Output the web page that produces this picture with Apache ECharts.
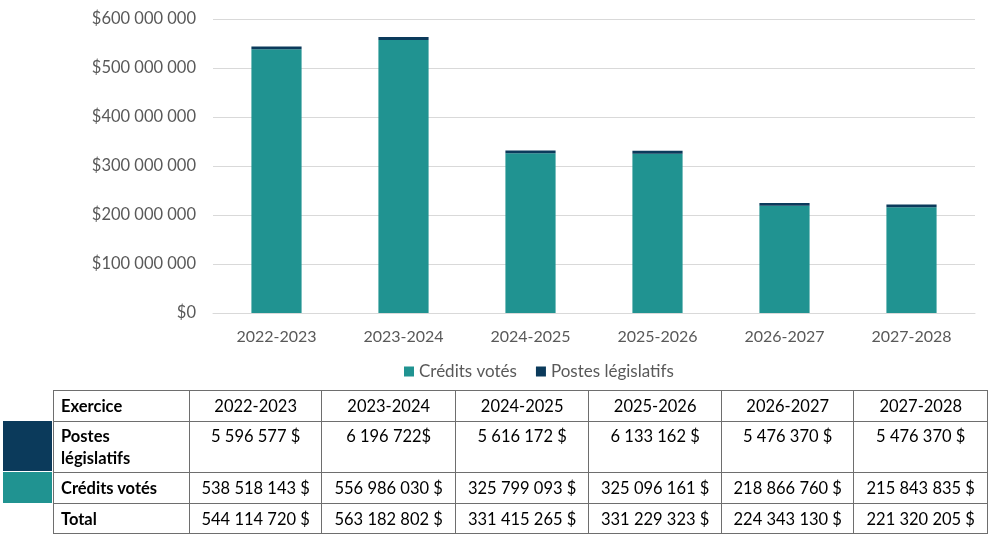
<!DOCTYPE html>
<html>
<head>
<meta charset="utf-8">
<script src="https://cdn.jsdelivr.net/npm/echarts@6/dist/echarts.min.js"></script>
<style>
html,body{margin:0;padding:0;background:#fff;}
#chart{position:absolute;left:0;top:0;width:988px;height:534px;}
#tbl{position:absolute;left:53px;top:390px;border-collapse:collapse;table-layout:fixed;font-family:Lato,"Noto Sans",sans-serif;font-size:16.5px;color:#000;}
#tbl td{border:1px solid #6e6e6e;padding:0 6px;text-align:center;vertical-align:middle;white-space:nowrap;overflow:hidden;}
#tbl td.lab{text-align:left;font-weight:bold;padding-left:7px;}
#tbl tr.tall td{vertical-align:top;padding-top:3px;line-height:22px;}
.sw{position:absolute;left:3px;width:49px;}
</style>
</head>
<body>
<div id="chart"></div>
<div class="sw" style="top:421px;height:50px;background:#0b3a5b;"></div>
<div class="sw" style="top:472px;height:31px;background:#209391;"></div>
<table id="tbl"></table>
<script>
const categories = ["2022-2023","2023-2024","2024-2025","2025-2026","2026-2027","2027-2028"];
const creditsVotes = [538518143, 556986030, 325799093, 325096161, 218866760, 215843835];
const postesLegislatifs = [5596577, 6196722, 5616172, 6133162, 5476370, 5476370];
const totals = [544114720, 563182802, 331415265, 331229323, 224343130, 221320205];
const postesText = ["5 596 577 $","6 196 722$","5 616 172 $","6 133 162 $","5 476 370 $","5 476 370 $"];
const yTicks = [0, 100000000, 200000000, 300000000, 400000000, 500000000, 600000000];

function fmt(n){ return String(n).replace(/\B(?=(\d{3})+(?!\d))/g, " "); }

const chart = echarts.init(document.getElementById('chart'));
chart.setOption({
  animation:false,
  textStyle:{fontFamily:'Lato, "Noto Sans", sans-serif'},
  grid:{left:213,right:13,top:19,bottom:221,containLabel:false},
  legend:{
    data:["Crédits votés","Postes législatifs"],
    left:399, top:358, icon:'rect', itemWidth:10, itemHeight:10, itemGap:19,
    textStyle:{fontSize:17,color:'#595959'}
  },
  xAxis:{
    type:'category', data:categories,
    axisLine:{lineStyle:{color:'#d9d9d9'}}, axisTick:{show:false},
    axisLabel:{fontSize:16,color:'#595959',margin:16}
  },
  yAxis:{
    type:'value', min:yTicks[0], max:yTicks[yTicks.length-1], interval:100000000,
    axisLine:{show:false}, axisTick:{show:false},
    splitLine:{lineStyle:{color:'#d9d9d9'}},
    axisLabel:{fontSize:16.5,color:'#595959',margin:17,formatter:v=>'$'+fmt(v)}
  },
  series:[
    {name:"Crédits votés",type:'bar',stack:'t',data:creditsVotes,barWidth:'39.5%',
     itemStyle:{color:'#209391'}},
    {name:"Postes législatifs",type:'bar',stack:'t',data:postesLegislatifs,barWidth:'39.5%',
     itemStyle:{color:'#0b3a5b'}}
  ]
});

const widths=[137,133,134,134,133,133,134];
let html='<colgroup>'+widths.map(w=>'<col style="width:'+w+'px">').join('')+'</colgroup>';
html+='<tr style="height:31px"><td class="lab">Exercice</td>'+categories.map(c=>'<td>'+c+'</td>').join('')+'</tr>';
html+='<tr class="tall" style="height:51px"><td class="lab">Postes<br>législatifs</td>'+postesText.map(t=>'<td>'+t+'</td>').join('')+'</tr>';
html+='<tr style="height:31px"><td class="lab">Crédits votés</td>'+creditsVotes.map(v=>'<td>'+fmt(v)+' $</td>').join('')+'</tr>';
html+='<tr style="height:30px"><td class="lab">Total</td>'+totals.map(v=>'<td>'+fmt(v)+' $</td>').join('')+'</tr>';
document.getElementById('tbl').innerHTML=html;
</script>
</body>
</html>
